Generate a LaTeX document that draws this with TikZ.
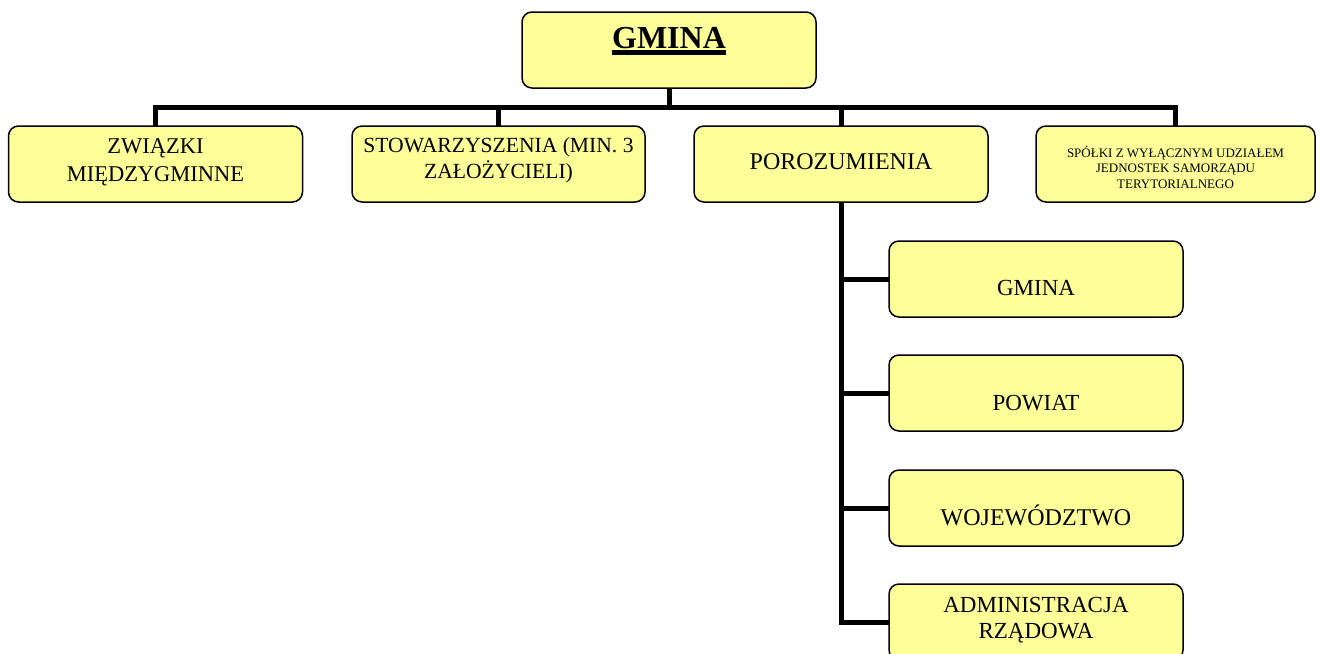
\documentclass[tikz,border=0pt]{standalone}
\usepackage{fontspec}
\setmainfont{Liberation Serif}
\usetikzlibrary{backgrounds}
\definecolor{boxfill}{HTML}{FFFF99}
\begin{document}
\begin{tikzpicture}[x=1pt,y=-1pt,
  box/.style={draw=black,line width=1.5pt,fill=boxfill,rounded corners=10pt,inner sep=0pt},
  txt/.style={inner sep=0pt,anchor=base,align=center,font=\fontsize{23}{26.5}\selectfont},
  small/.style={inner sep=0pt,anchor=base,align=center,font=\fontsize{13}{15.2}\selectfont},
  link/.style={line width=5pt,line cap=rect}]
\useasboundingbox (0,0) rectangle (1321,653);
\clip (0,0) rectangle (1321,653);
% boxes
\node[box,minimum width=294pt,minimum height=76pt] (top) at (669,50) {};
\node[box,minimum width=294pt,minimum height=76pt] (zw) at (155.5,164) {};
\node[box,minimum width=293pt,minimum height=76pt] (st) at (498.5,164) {};
\node[box,minimum width=294pt,minimum height=76pt] (po) at (841,164) {};
\node[box,minimum width=279pt,minimum height=76pt] (sp) at (1175.5,164) {};
\node[box,minimum width=294pt,minimum height=76pt] (c1) at (1036,279) {};
\node[box,minimum width=294pt,minimum height=76pt] (c2) at (1036,393) {};
\node[box,minimum width=294pt,minimum height=76pt] (c3) at (1036,508) {};
\node[box,minimum width=294pt,minimum height=76pt] (c4) at (1036,622) {};
% texts
\node[inner sep=0pt,anchor=base,font=\fontsize{32}{34}\selectfont\bfseries] (gt) at (669,48) {GMINA};
\draw[line width=4.5pt] ([yshift=-4.5pt]gt.base west) -- ([yshift=-4.5pt]gt.base east);
\node[txt,font=\fontsize{22.5}{28}\selectfont] (zwt) at (155.5,181) {ZWIĄZKI\\MIĘDZYGMINNE};
\node[txt,font=\fontsize{21.6}{26}\selectfont] (stt) at (498.5,178) {STOWARZYSZENIA (MIN. 3\\ZAŁOŻYCIELI)};
\node[txt,font=\fontsize{24}{26}\selectfont] (pot) at (841,169) {POROZUMIENIA};
\node[small] (spt) at (1175.5,188) {SPÓŁKI Z WYŁĄCZNYM UDZIAŁEM\\JEDNOSTEK SAMORZĄDU\\TERYTORIALNEGO};
\node[txt] (c1t) at (1036,295) {GMINA};
\node[txt] (c2t) at (1036,410) {POWIAT};
\node[txt,font=\fontsize{24}{26}\selectfont] (c3t) at (1036,525) {WOJEWÓDZTWO};
\node[txt,font=\fontsize{23}{26}\selectfont] (c4t) at (1036,638) {ADMINISTRACJA\\RZĄDOWA};
% connectors
\begin{scope}[on background layer]
\coordinate (bar) at (669,107);
\draw[link] (top.south) -- (bar);
\draw[link] (zw.north) -- (zw.north |- bar) -- (sp.north |- bar) -- (sp.north);
\draw[link] (st.north) -- (st.north |- bar);
\draw[link] (po.north) -- (po.north |- bar);
\draw[link] (po.south) -- (po.south |- c4.west) -- (c4.west);
\draw[link] (po.south |- c1.west) -- (c1.west);
\draw[link] (po.south |- c2.west) -- (c2.west);
\draw[link] (po.south |- c3.west) -- (c3.west);
\end{scope}
\end{tikzpicture}
\end{document}
